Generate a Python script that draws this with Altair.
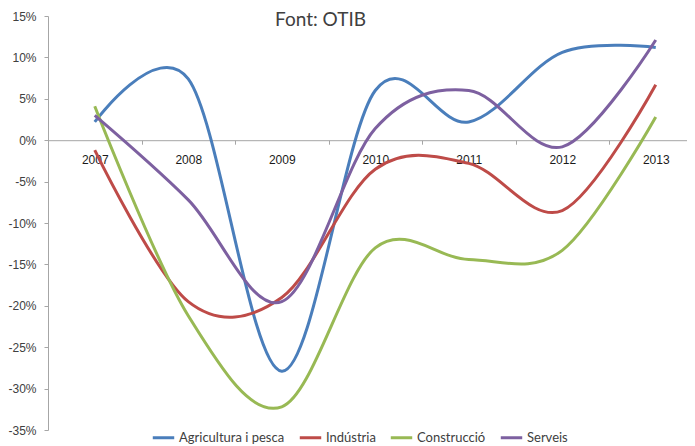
import altair as alt
import pandas as pd

years = [2007, 2008, 2009, 2010, 2011, 2012, 2013]
series = ["Agricultura i pesca", "Indústria", "Construcció", "Serveis"]
agricultura = [2.2, 7.4, -27.9, 6.0, 2.2, 10.6, 11.2]
industria = [-1.2, -19.5, -19.0, -3.5, -2.8, -8.5, 6.7]
construccio = [4.1, -21.2, -32.2, -13.0, -14.4, -13.3, 2.8]
serveis = [3.0, -7.2, -19.5, 1.4, 6.0, -0.8, 12.1]
colors = ["#4A7EBB", "#BE4B48", "#98B954", "#7D60A0"]

rows = []
for name, vals in zip(series, [agricultura, industria, construccio, serveis]):
    for y, v in zip(years, vals):
        rows.append({"year": y, "value": v / 100.0, "series": name})
df = pd.DataFrame(rows)

W, H = 639, 414
band = 93.5
xmax = 2006.5 + W / band
zero_y = H * 15 / 50

lines = alt.Chart(df).mark_line(strokeWidth=3, interpolate="cardinal", tension=0).encode(
    x=alt.X("year:Q", scale=alt.Scale(domain=[2006.5, xmax], nice=False, zero=False),
            axis=alt.Axis(values=years, title=None, format="d",
                          tickOffset=band / 2, labelOffset=-band / 2,
                          labelFlush=False, labelOverlap=False,
                          offset=-(H - zero_y), tickSize=4, labelPadding=10,
                          domainColor="#A6A6A6", tickColor="#A6A6A6",
                          labelFont="Liberation Sans", labelFontSize=12,
                          labelColor="#1a1a1a", grid=False)),
    y=alt.Y("value:Q", scale=alt.Scale(domain=[-0.35, 0.15], nice=False),
            axis=alt.Axis(values=[-0.35, -0.30, -0.25, -0.20, -0.15, -0.10, -0.05, 0, 0.05, 0.10, 0.15],
                          labelExpr="replace(format(datum.value, '.0%'), '\u2212', '-')",
                          title=None, tickSize=4, labelPadding=8, grid=False,
                          domainColor="#A6A6A6", tickColor="#A6A6A6",
                          labelFont="Liberation Sans", labelFontSize=12,
                          labelColor="#404040")),
    color=alt.Color("series:N", scale=alt.Scale(domain=series, range=colors),
                    legend=alt.Legend(orient="none", direction="horizontal",
                                      legendX=103, legendY=409, title=None,
                                      symbolType="stroke", symbolStrokeWidth=3,
                                      symbolSize=460, labelFont="Lato",
                                      labelFontSize=13, labelColor="#404040",
                                      columnPadding=8, labelOffset=3)),
    order="year:Q",
)

chart = lines.properties(
    width=W, height=H,
    autosize=alt.AutoSizeParams(type="none"),
    padding={"left": 40, "top": 8, "right": 0, "bottom": 14},
    title=alt.TitleParams("Font: OTIB", font="Lato", fontSize=19, fontWeight="normal",
                          color="#404040", anchor="middle", dx=-47, offset=-20),
).configure_view(stroke=None)

chart.save("out.html", embed_options={"renderer": "svg", "actions": False})
